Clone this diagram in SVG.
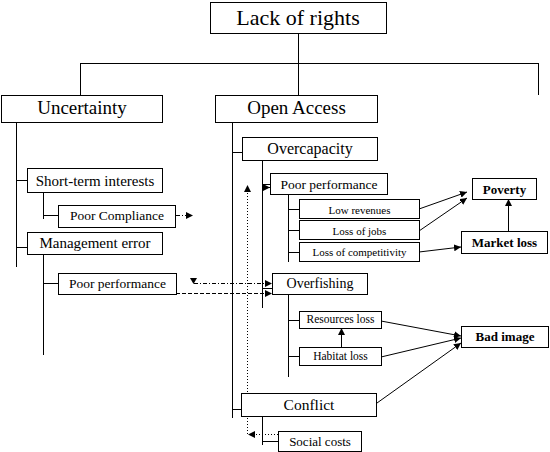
<svg xmlns="http://www.w3.org/2000/svg" width="550" height="452" viewBox="0 0 550 452">
<defs>
<marker id="ah" markerUnits="userSpaceOnUse" markerWidth="7" markerHeight="7" refX="7" refY="3.5" orient="auto"><path d="M0,0 L7,3.5 L0,7 z" fill="#000"/></marker>
<style>
rect{fill:#fff;stroke:#000;stroke-width:1}
text{font-family:"Liberation Serif","Times New Roman",serif;fill:#000;text-anchor:middle}
.b{font-weight:bold}
#connectors path{fill:none;stroke:#000;stroke-width:1}
#connectors .a{marker-end:url(#ah)}
#connectors .dash{stroke-dasharray:4 2}
#connectors .dd{stroke-dasharray:4 2 1 2}
#connectors .dot{stroke-dasharray:1 2}
</style>
</defs>
<rect x="0" y="0" width="550" height="452" style="fill:#fff;stroke:none"/>
<g id="connectors">
<path d="M298.5 33V95M80.5 63.5H538.5M80.5 63V95M538.5 63V95"/>
<path d="M16.5 122V267M16.5 180.5H27M16.5 247.5H27M43.5 192V219M43.5 215.5H58M43.5 254V355M43.5 283.5H58"/>
<path d="M232.5 122V418M232.5 152.5H242M232.5 409.5H241"/>
<path d="M262.5 160V308M262.5 184.5H270M262.5 288.5H272"/>
<path d="M288.5 194V262M288.5 209.5H299M288.5 230.5H299M288.5 252.5H299"/>
<path d="M288.5 294V377M288.5 320.5H299M288.5 356.5H299"/>
<path d="M262.5 416V445M262.5 441.5H278"/>
<path class="a" d="M262.5 187.5H270"/>
<path class="a" d="M419 209L467 192"/>
<path class="a" d="M419 231L467 198"/>
<path class="a" d="M419 252L461 247"/>
<path class="a" d="M508.5 231V199"/>
<path class="a" d="M381 321L461 336"/>
<path class="a" d="M381 357L461 338"/>
<path class="a" d="M377 403L461 343"/>
<path class="a" d="M341.5 347V328"/>
<path class="a dd" d="M176 215.5H193"/>
<path class="a dd" d="M194 283.5H272"/>
<path class="a dash" d="M176 293.5H272"/>
<path class="a dot" d="M278 434.5H248"/>
<path class="a dot" d="M247.5 434V185"/>
<polygon points="190,278 197,278 193.5,284" fill="#000"/>
</g>
<g id="lack"><rect x="210.5" y="2.5" width="176" height="31"/><text x="298" y="25" font-size="22">Lack of rights</text></g>
<g id="uncertainty"><rect x="1.5" y="95.5" width="161" height="27"/><text x="82" y="114" font-size="19">Uncertainty</text></g>
<g id="openaccess"><rect x="215.5" y="95.5" width="162" height="27"/><text x="296.5" y="114" font-size="19">Open Access</text></g>
<g id="overcapacity"><rect x="242.5" y="137.5" width="135" height="23"/><text x="310" y="154" font-size="16">Overcapacity</text></g>
<g id="shortterm"><rect x="27.5" y="168.5" width="135" height="24"/><text x="95" y="186" font-size="15">Short-term interests</text></g>
<g id="poorcompliance"><rect x="58.5" y="205.5" width="117" height="22"/><text x="117" y="220" font-size="13.5">Poor Compliance</text></g>
<g id="management"><rect x="27.5" y="232.5" width="135" height="22"/><text x="95" y="248" font-size="15">Management error</text></g>
<g id="poorperf1"><rect x="58.5" y="273.5" width="118" height="21"/><text x="117.5" y="288" font-size="13.5">Poor performance</text></g>
<g id="poorperf2"><rect x="270.5" y="173.5" width="117" height="21"/><text x="329" y="189" font-size="13.5">Poor performance</text></g>
<g id="lowrev"><rect x="299.5" y="199.5" width="120" height="19"/><text x="359.5" y="214" font-size="11">Low revenues</text></g>
<g id="lossjobs"><rect x="299.5" y="220.5" width="120" height="19"/><text x="359.5" y="235" font-size="11">Loss of jobs</text></g>
<g id="losscomp"><rect x="299.5" y="242.5" width="120" height="19"/><text x="359.5" y="256" font-size="11">Loss of competitivity</text></g>
<g id="poverty"><rect x="472.5" y="178.5" width="64" height="21"/><text class="b" x="504.5" y="194" font-size="13">Poverty</text></g>
<g id="marketloss"><rect x="461.5" y="231.5" width="86" height="22"/><text class="b" x="504.5" y="247" font-size="13">Market loss</text></g>
<g id="overfishing"><rect x="272.5" y="273.5" width="95" height="21"/><text x="320" y="288" font-size="14">Overfishing</text></g>
<g id="resloss"><rect x="299.5" y="311.5" width="82" height="17"/><text x="340.5" y="323" font-size="11.5">Resources loss</text></g>
<g id="habloss"><rect x="299.5" y="347.5" width="82" height="18"/><text x="340.5" y="360" font-size="11.5">Habitat loss</text></g>
<g id="badimage"><rect x="461.5" y="326.5" width="87" height="21"/><text class="b" x="505" y="341" font-size="13">Bad image</text></g>
<g id="conflict"><rect x="241.5" y="393.5" width="135" height="23"/><text x="309" y="410" font-size="15.5">Conflict</text></g>
<g id="socialcosts"><rect x="278.5" y="431.5" width="83" height="20"/><text x="320" y="445.5" font-size="13">Social costs</text></g>
</svg>
